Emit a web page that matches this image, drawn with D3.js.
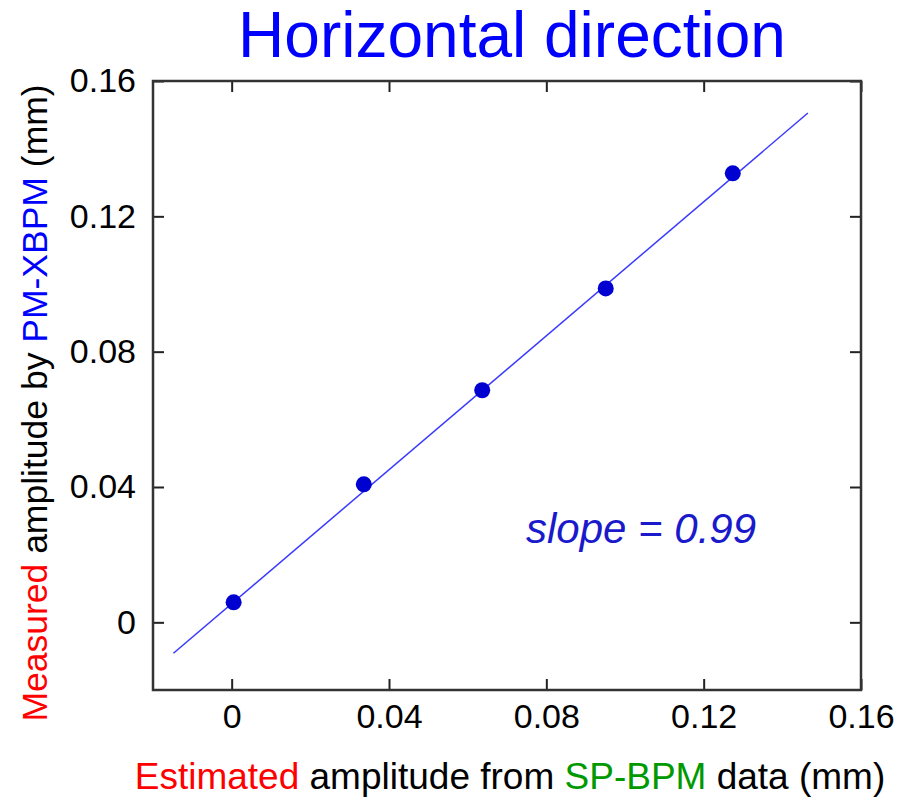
<!DOCTYPE html>
<html><head><meta charset="utf-8">
<script src="https://cdn.jsdelivr.net/npm/d3@7"></script>
<style>body{margin:0;background:#fff}svg{display:block;font-family:Arial,"Liberation Sans",sans-serif}</style>
</head><body>
<svg id="c" width="900" height="800"></svg>
<script>
const xVals = [0.0005, 0.0336, 0.0637, 0.0951, 0.1274];
const yVals = [0.0059, 0.0408, 0.0686, 0.0987, 0.1327];
const fitX = [-0.0148, 0.1465];
const slope = 0.99;
const intercept = 0.0055;
const xTicks = [0, 0.04, 0.08, 0.12, 0.16];
const yTicks = [0, 0.04, 0.08, 0.12, 0.16];
const tickLabels = ["0", "0.04", "0.08", "0.12", "0.16"];

const svg = d3.select("#c");
const L = 153, R = 861, T = 81, B = 690;
const x = d3.scaleLinear().domain([-0.02, 0.16]).range([L, R]);
const y = d3.scaleLinear().domain([-0.02, 0.16]).range([B, T]);

const fmt = (d) => tickLabels[xTicks.indexOf(d)];
const tl = 11;
function styleAxis(g){
  g.select(".domain").remove();
  g.selectAll(".tick line").attr("stroke","#222").attr("stroke-width",2);
  g.selectAll(".tick text").attr("font-size",34).attr("fill","#000").attr("font-family","Arial, 'Liberation Sans', sans-serif");
}
svg.append("g").attr("transform",`translate(0,${B})`)
  .call(d3.axisBottom(x).tickValues(xTicks).tickFormat(fmt).tickSizeInner(-tl).tickSizeOuter(0).tickPadding(14))
  .call(styleAxis);
svg.append("g").attr("transform",`translate(0,${T})`)
  .call(d3.axisTop(x).tickValues(xTicks).tickFormat("").tickSizeInner(-tl).tickSizeOuter(0))
  .call(styleAxis);
svg.append("g").attr("transform",`translate(${L},0)`)
  .call(d3.axisLeft(y).tickValues(yTicks).tickFormat(fmt).tickSizeInner(-tl).tickSizeOuter(0).tickPadding(17))
  .call(styleAxis);
svg.append("g").attr("transform",`translate(${R},0)`)
  .call(d3.axisRight(y).tickValues(yTicks).tickFormat("").tickSizeInner(-tl).tickSizeOuter(0))
  .call(styleAxis);

svg.append("rect").attr("x",L).attr("y",T).attr("width",R-L).attr("height",B-T)
  .attr("fill","none").attr("stroke","#333").attr("stroke-width",2.5);

// fit line
svg.append("line")
  .attr("x1",x(fitX[0])).attr("y1",y(intercept+slope*fitX[0]))
  .attr("x2",x(fitX[1])).attr("y2",y(intercept+slope*fitX[1]))
  .attr("stroke","#3a3aff").attr("stroke-width",1.5);

// points
svg.selectAll("circle.pt").data(xVals).enter().append("circle")
  .attr("class","pt").attr("cx",d=>x(d)).attr("cy",(d,i)=>y(yVals[i])).attr("r",8)
  .attr("fill","#0000d0");

// title
svg.append("text").attr("x",512).attr("y",57).attr("text-anchor","middle")
  .attr("font-size",64).attr("fill","#0000ff").text("Horizontal direction");

// slope annotation
svg.append("text").attr("x",526).attr("y",543).attr("font-size",42).attr("font-style","italic")
  .attr("fill","#1a1acc").text("slope = 0.99");

// x label
const xl = svg.append("text").attr("x",510).attr("y",789).attr("text-anchor","middle").attr("font-size",37);
xl.append("tspan").attr("fill","#ff0000").text("Estimated");
xl.append("tspan").attr("fill","#000").text(" amplitude from ");
xl.append("tspan").attr("fill","#009900").text("SP-BPM");
xl.append("tspan").attr("fill","#000").text(" data (mm)");

// y label
const yl = svg.append("text").attr("transform","translate(47,403) rotate(-90)").attr("text-anchor","middle").attr("font-size",35.5);
yl.append("tspan").attr("fill","#ff0000").text("Measured");
yl.append("tspan").attr("fill","#000").text(" amplitude by ");
yl.append("tspan").attr("fill","#0000ff").text("PM-XBPM");
yl.append("tspan").attr("fill","#000").text(" (mm)");
</script>
</body></html>
